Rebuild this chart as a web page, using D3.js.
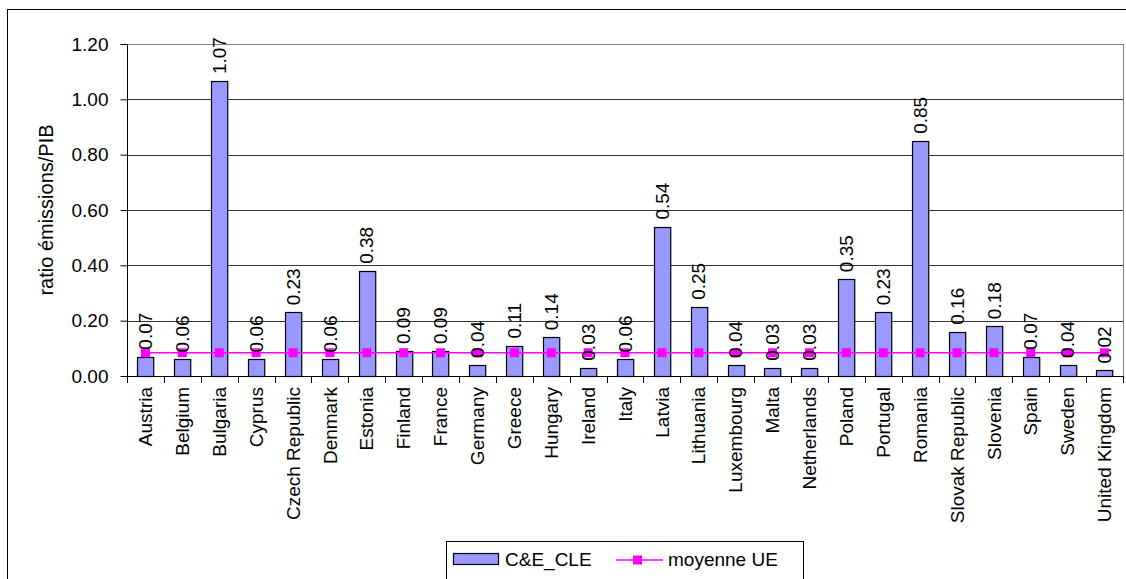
<!DOCTYPE html>
<head>
  <meta charset="utf-8">
  <style>
    body { margin: 0; background: #fff; }
    text { font-family: 'Liberation Sans', Arial, sans-serif; fill: #000; }
  </style>
</head>
<body>
  <script src="https://cdn.jsdelivr.net/npm/d3@7"></script>
  <script>
    // chart values
    const countries = ["Austria", "Belgium", "Bulgaria", "Cyprus", "Czech Republic", "Denmark",
      "Estonia", "Finland", "France", "Germany", "Greece", "Hungary", "Ireland", "Italy", "Latvia",
      "Lithuania", "Luxembourg", "Malta", "Netherlands", "Poland", "Portugal", "Romania",
      "Slovak Republic", "Slovenia", "Spain", "Sweden", "United Kingdom"];
    const ratios = [0.07, 0.06, 1.066, 0.06, 0.23, 0.06, 0.38, 0.09, 0.09, 0.04, 0.11, 0.14, 0.03,
      0.06, 0.54, 0.25, 0.04, 0.03, 0.03, 0.35, 0.23, 0.85, 0.16, 0.18, 0.07, 0.04, 0.02];
    const euMean = [0.084, 0.084, 0.084, 0.084, 0.084, 0.084, 0.084, 0.084, 0.084, 0.084, 0.084,
      0.084, 0.084, 0.084, 0.084, 0.084, 0.084, 0.084, 0.084, 0.084, 0.084, 0.084, 0.084, 0.084,
      0.084, 0.084, 0.084];
    const yTicks = [0, 0.2, 0.4, 0.6, 0.8, 1.0, 1.2];
    const seriesNames = ["C&E_CLE", "moyenne UE"];
    const yTitle = "ratio émissions/PIB";

    const width = 1126, height = 579;
    const plot = {left: 127, right: 1123, top: 44, bottom: 376};
    const fontSize = 19;

    const svg = d3.select("body").append("svg")
      .attr("width", width).attr("height", height);

    // outer chart frame (runs off the picture at right and bottom)
    svg.append("rect")
      .attr("x", 7.5).attr("y", 9.5)
      .attr("width", 1130).attr("height", 600)
      .attr("fill", "none").attr("stroke", "#000");

    const x = d3.scaleBand().domain(countries).range([plot.left, plot.right]).paddingInner(0.56).paddingOuter(0.28);
    const xStep = (plot.right - plot.left) / countries.length;
    const y = d3.scaleLinear().domain([0, 1.2]).range([plot.bottom, plot.top]);

    // gridlines
    svg.append("g").selectAll("line").data(yTicks.filter(t => t > 0)).enter().append("line")
      .attr("x1", plot.left).attr("x2", plot.right)
      .attr("y1", d => Math.round(y(d)) + 0.5).attr("y2", d => Math.round(y(d)) + 0.5)
      .attr("stroke", d => d === 1.2 ? "#808080" : "#333");
    // right side of plot area
    svg.append("line")
      .attr("x1", plot.right + 0.5).attr("x2", plot.right + 0.5)
      .attr("y1", plot.top).attr("y2", plot.bottom)
      .attr("stroke", "#808080");

    // y axis
    const yAxis = d3.axisLeft(y).tickValues(yTicks).tickFormat(d3.format(".2f")).tickSize(7).tickPadding(12);
    const gy = svg.append("g").attr("transform", "translate(" + (plot.left + 0.5) + ",0)").call(yAxis);
    gy.selectAll("text").style("font-size", fontSize + "px").attr("fill", "#000");
    gy.selectAll("line, path").attr("stroke", "#000");
    gy.select(".domain").attr("d", "M0," + (plot.top) + "V" + plot.bottom);

    svg.append("text")
      .attr("transform", "translate(53," + ((plot.top + plot.bottom) / 2) + ") rotate(-90)")
      .attr("text-anchor", "middle")
      .style("font-size", (fontSize + 1) + "px")
      .text(yTitle);

    // bars
    svg.append("g").selectAll("rect").data(ratios).enter().append("rect")
      .attr("x", (d, i) => Math.round(x(countries[i])) + 0.5)
      .attr("y", d => Math.round(y(d)) + 0.5)
      .attr("width", x.bandwidth())
      .attr("height", d => plot.bottom - Math.round(y(d)))
      .attr("fill", "#9999FF").attr("stroke", "#000").attr("stroke-width", 1.2);

    // x axis line and ticks at category boundaries
    svg.append("line")
      .attr("x1", plot.left).attr("x2", plot.right)
      .attr("y1", plot.bottom + 0.5).attr("y2", plot.bottom + 0.5)
      .attr("stroke", "#000");
    svg.append("g").selectAll("line").data(d3.range(countries.length + 1)).enter().append("line")
      .attr("x1", i => Math.round(plot.left + i * xStep) + 0.5)
      .attr("x2", i => Math.round(plot.left + i * xStep) + 0.5)
      .attr("y1", plot.bottom).attr("y2", plot.bottom + 7)
      .attr("stroke", "#000");

    // category labels
    svg.append("g").selectAll("text").data(countries).enter().append("text")
      .attr("transform", d => "translate(" + (x(d) + x.bandwidth() / 2) + ",387) rotate(-90)")
      .attr("text-anchor", "end")
      .attr("dy", "0.35em")
      .style("font-size", fontSize + "px")
      .text(d => d);

    // EU mean line with square markers
    const line = d3.line()
      .x((d, i) => x(countries[i]) + x.bandwidth() / 2)
      .y(d => y(d));
    svg.append("path").datum(euMean)
      .attr("d", line)
      .attr("fill", "none").attr("stroke", "#FF00FF").attr("stroke-width", 1.5);
    svg.append("g").selectAll("rect").data(euMean).enter().append("rect")
      .attr("x", (d, i) => x(countries[i]) + x.bandwidth() / 2 - 4.5)
      .attr("y", d => y(d) - 4.5)
      .attr("width", 9).attr("height", 9)
      .attr("fill", "#FF00FF");

    // value labels above bars
    svg.append("g").selectAll("text").data(ratios).enter().append("text")
      .attr("transform", (d, i) => "translate(" + (x(countries[i]) + x.bandwidth() / 2) + "," + (y(d) - 7) + ") rotate(-90)")
      .attr("text-anchor", "start")
      .attr("dy", "0.35em")
      .style("font-size", fontSize + "px")
      .text(d => d3.format(".2f")(d));

    // legend
    const legend = svg.append("g").attr("transform", "translate(446,541)");
    legend.append("rect")
      .attr("x", 0.5).attr("y", 0.5).attr("width", 357).attr("height", 60)
      .attr("fill", "#fff").attr("stroke", "#000");
    legend.append("rect")
      .attr("x", 7.5).attr("y", 12.5).attr("width", 45).attr("height", 11)
      .attr("fill", "#9999FF").attr("stroke", "#000").attr("stroke-width", 1.2);
    legend.append("text").attr("x", 59).attr("y", 25)
      .style("font-size", fontSize + "px").text(seriesNames[0]);
    legend.append("line")
      .attr("x1", 170).attr("x2", 217).attr("y1", 19).attr("y2", 19)
      .attr("stroke", "#FF00FF").attr("stroke-width", 1.5);
    legend.append("rect")
      .attr("x", 187).attr("y", 14.5).attr("width", 9).attr("height", 9)
      .attr("fill", "#FF00FF");
    legend.append("text").attr("x", 222).attr("y", 25)
      .style("font-size", fontSize + "px").text(seriesNames[1]);
  </script>
</body>
